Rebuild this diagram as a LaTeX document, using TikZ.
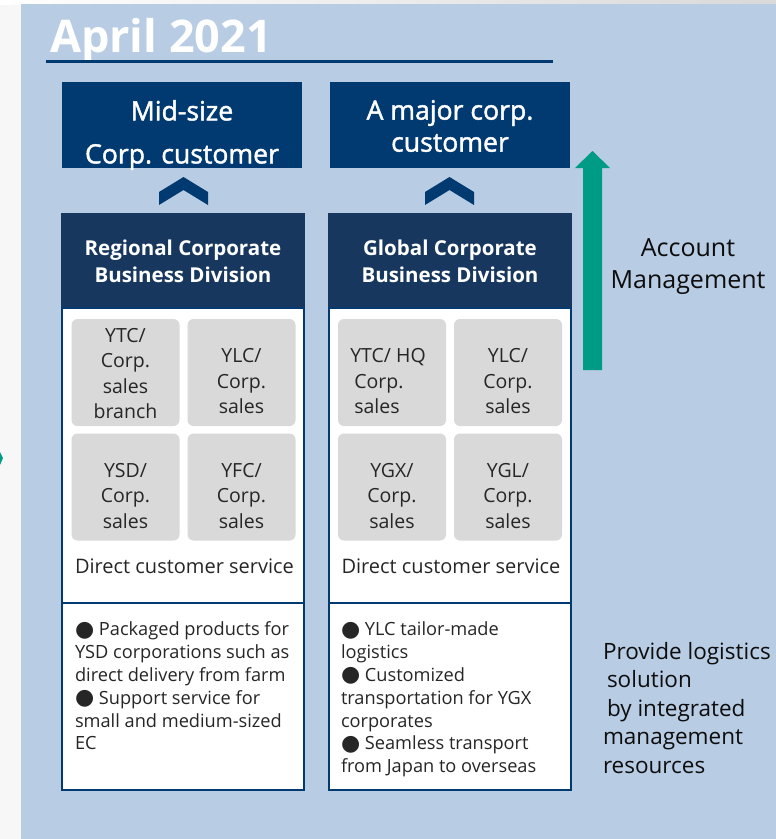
\documentclass[tikz,border=0pt]{standalone}
\usepackage{fontspec}
\setmainfont{Open Sans}
\newfontfamily\dotfont{DejaVu Sans}
\newfontfamily\semifont[FakeBold=1.6]{Open Sans}
\usetikzlibrary{positioning}
\definecolor{bgblue}{HTML}{B8CCE4}
\definecolor{custnavy}{HTML}{003A70}
\definecolor{divnavy}{HTML}{17375E}
\definecolor{acctteal}{HTML}{009B84}
\definecolor{tilegray}{HTML}{D9D9D9}
\definecolor{ink}{HTML}{262626}
\newcommand{\bul}{{\dotfont\fontsize{22}{22}\selectfont\raisebox{-0.5pt}{\char"25CF}}}
\tikzset{custbox/.style={fill=custnavy, minimum width=240pt, minimum height=86pt}}
\tikzset{custtext/.style={text=white, align=center, font=\semifont\fontsize{26.6}{32}\selectfont}}
\tikzset{divhead/.style={fill=divnavy, draw=divnavy, line width=2pt, text=white,
    align=center, minimum width=242pt, minimum height=94pt,
    font=\bfseries\fontsize{20.5}{27}\selectfont}}
\tikzset{divbody/.style={fill=white, draw=custnavy, line width=2pt, minimum width=242pt}}
\tikzset{tile/.style={fill=tilegray, rounded corners=6pt, minimum width=108pt, minimum height=107pt}}
\tikzset{tiletext/.style={text=ink, align=center, font=\fontsize{19.5}{25.5}\selectfont}}
\tikzset{chevron/.style={fill=custnavy}}

\begin{document}
\begin{tikzpicture}[x=1pt, y=-1pt, every node/.style={inner sep=0pt, outer sep=0pt}]
    \tikzstyle{service}=[text=ink, font=\fontsize{20}{24}\selectfont]
    \tikzstyle{bullets}=[text=ink, align=left, anchor=north west,
        font=\fontsize{18.2}{22.8}\selectfont]
    \useasboundingbox (0,0) rectangle (776,839);
    \fill[black!3] (0,0) rectangle (776,839);
    \shade[left color=white, right color=black!15] (0,0) rectangle (776,4);
    \fill[bgblue] (21,4) rectangle (776,839);
    \fill[acctteal] (0,452) -- (3,458) -- (0,465) -- cycle;
    % title
    \node[anchor=base west, text=white, font=\bfseries\fontsize{45}{50}\selectfont]
        (title) at (50,52) {April 2021};
    \coordinate (rulea) at (46,61.5);
    \coordinate (ruleb) at (553,61.5);
    \draw[custnavy, line width=2.5pt] (rulea) -- (ruleb);
    % customers
    \node[custbox] (midbox) at (182,125) {};
    \node[custtext, font=\semifont\fontsize{26.6}{43}\selectfont] (midtext) at ([yshift=-10pt]midbox.center)
        {Mid-size\\Corp. customer};
    \node[custbox] (majbox) at (450,125) {};
    \node[custtext] (majtext) at ([yshift=-1pt]majbox.center) {A major corp.\\customer};
    \fill[chevron] (159,192) -- (183.5,177) -- (208,192) -- (208,205) -- (183.5,190) -- (159,205) -- cycle;
    \fill[chevron] (425,192) -- (449.5,177) -- (474,192) -- (474,205) -- (449.5,190) -- (425,205) -- cycle;
    % regional division
    \node[divhead] (reghead) at (183,261) {Regional Corporate\\Business Division};
    \node[divbody, minimum height=295pt, below=0pt of reghead] (regbody) {};
    \node[divbody, minimum height=187pt, below=0pt of regbody] (reglist) {};
    \node[tile] (rt1) at (125.5,372.5) {};
    \node[tile] (rt2) at (241.5,372.5) {};
    \node[tile] (rt3) at (125.5,487) {};
    \node[tile] (rt4) at (241.5,487) {};
    \node[tiletext] at ([yshift=-1pt]rt1.center) {YTC/\\Corp.\\sales\\branch};
    \node[tiletext] at ([yshift=-9pt]rt2.center) {YLC/\\Corp.\\sales};
    \node[tiletext] at ([yshift=-9pt]rt3.center) {YSD/\\Corp.\\sales};
    \node[tiletext] at ([yshift=-9pt]rt4.center) {YFC/\\Corp.\\sales};
    \node[service] (regserv) at (184.5,566) {Direct customer service};
    \node[bullets] (regbul) at (75,622) {\bul{} Packaged products for\\YSD corporations such as\\
        direct delivery from farm\\\bul{} Support service for\\small and medium-sized\\EC};
    % global division
    \node[divhead] (globhead) at (450,261) {Global Corporate\\Business Division};
    \node[divbody, minimum height=295pt, below=0pt of globhead] (globbody) {};
    \node[divbody, minimum height=187pt, below=0pt of globbody] (globlist) {};
    \node[tile] (gt1) at (392,372.5) {};
    \node[tile] (gt2) at (508,372.5) {};
    \node[tile] (gt3) at (392,487) {};
    \node[tile] (gt4) at (508,487) {};
    \node[tiletext, align=left] at ([xshift=-4pt, yshift=-9pt]gt1.center) {YTC/ HQ\\\hspace*{4pt}Corp.\\\hspace*{4pt}sales};
    \node[tiletext] at ([yshift=-9pt]gt2.center) {YLC/\\Corp.\\sales};
    \node[tiletext] at ([yshift=-9pt]gt3.center) {YGX/\\Corp.\\sales};
    \node[tiletext] at ([yshift=-9pt]gt4.center) {YGL/\\Corp.\\sales};
    \node[service] (globserv) at (451,566) {Direct customer service};
    \node[bullets] (globbul) at (341,622) {\bul{} YLC tailor-made\\logistics\\\bul{} Customized\\
        transportation for YGX\\corporates\\\bul{} Seamless transport\\from Japan to overseas};
    % account management
    \fill[acctteal] (583,370) -- (583,168) -- (575,168) -- (592.5,151) -- (610,168)
        -- (602,168) -- (602,370) -- cycle;
    \node[align=center, text=black!95, font=\fontsize{25}{32}\selectfont] (acct) at (688,267)
        {Account\\Management};
    \node[align=left, anchor=north west, text=black!95, font=\fontsize{22.5}{28.5}\selectfont]
        (provide) at (603,642) {Provide logistics\\\hspace*{4pt}solution\\\hspace*{4pt}by integrated\\
        management\\resources};
\end{tikzpicture}
\end{document}
